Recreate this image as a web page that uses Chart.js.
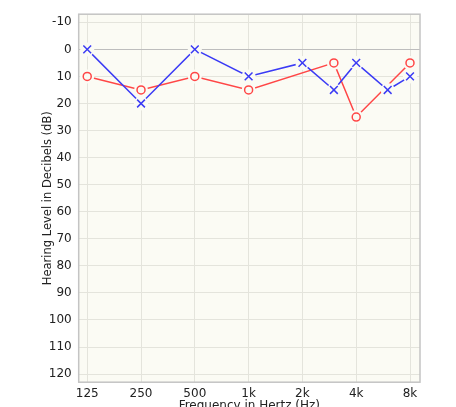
<!DOCTYPE html>
<html>
<head>
<meta charset="utf-8">
<script src="https://cdn.jsdelivr.net/npm/chart.js@4.4.1/dist/chart.umd.min.js"></script>
<style>
  html, body { margin: 0; padding: 0; background: #fff; overflow: hidden; }
  #wrap { width: 456px; height: 413px; position: relative; }
</style>
</head>
<body>
<div id="wrap"><canvas id="audiogram"></canvas></div>
<script>
// audiogram data (Hz / dB HL)
let freq_ticks = [125, 250, 500, 1000, 2000, 4000, 8000]
let freq_labels = ['125', '250', '500', '1k', '2k', '4k', '8k']
let db_ticks = [-10, 0, 10, 20, 30, 40, 50, 60, 70, 80, 90, 100, 110, 120]

let left_freqs = [125, 250, 500, 1000, 2000, 3000, 4000, 6000, 8000]
let left_db = [0, 20, 0, 10, 5, 15, 5, 15, 10]
let right_freqs = [125, 250, 500, 1000, 3000, 4000, 8000]
let right_db = [10, 15, 10, 15, 5, 25, 5]

let plot_bg = '#fbfbf4'
let blue = '#3b3bf5'
let red = '#ff4646'

const toPoints = (xs, ys) => xs.map((f, i) => ({ x: f, y: ys[i] }))

// plot background + full border
const plotFrame = {
  id: 'plotFrame',
  beforeDraw(chart) {
    const { ctx, chartArea: a } = chart
    ctx.save()
    ctx.fillStyle = plot_bg
    ctx.fillRect(a.left, a.top, a.width, a.height)
    ctx.restore()
  },
  afterDatasetsDraw(chart) {
    const { ctx, chartArea: a } = chart
    ctx.save()
    ctx.strokeStyle = '#c4c4c4'
    ctx.lineWidth = 1.5
    ctx.strokeRect(a.left, a.top, a.width, a.height)
    ctx.restore()
  }
}

function markers(xs, ys, color, style, r) {
  return {
    data: toPoints(xs, ys), showLine: false,
    pointStyle: style, pointRadius: r, pointHoverRadius: r,
    pointBorderColor: color, pointBackgroundColor: 'rgba(0,0,0,0)', pointBorderWidth: 1.5
  }
}
function halo(xs, ys) {
  return {
    data: toPoints(xs, ys), showLine: false,
    pointStyle: 'circle', pointRadius: 7, pointBorderWidth: 0,
    pointBackgroundColor: plot_bg, pointBorderColor: plot_bg
  }
}
function line(xs, ys, color) {
  return {
    data: toPoints(xs, ys), showLine: true, pointRadius: 0,
    borderColor: color, borderWidth: 1.5
  }
}

let chart = new Chart(document.querySelector('#audiogram'), {
  type: 'scatter',
  data: {
    datasets: [
      markers(left_freqs, left_db, blue, 'crossRot', 5.5),
      markers(right_freqs, right_db, red, 'circle', 4),
      halo(left_freqs, left_db),
      halo(right_freqs, right_db),
      line(left_freqs, left_db, blue),
      line(right_freqs, right_db, red)
    ]
  },
  options: {
    responsive: true,
    maintainAspectRatio: false,
    animation: false,
    layout: { padding: { left: 28, right: 36, top: 13, bottom: 0 } },
    plugins: { legend: { display: false }, tooltip: { enabled: false } },
    scales: {
      x: {
        type: 'logarithmic',
        min: 112, max: 9100,
        afterBuildTicks: axis => { axis.ticks = freq_ticks.map(v => ({ value: v })) },
        ticks: {
          color: '#222', font: { family: 'DejaVu Sans', size: 12 }, padding: 4,
          autoSkip: false, maxRotation: 0,
          callback: v => freq_labels[freq_ticks.indexOf(v)]
        },
        grid: { color: '#e4e4dc', drawTicks: false },
        border: { display: false },
        title: {
          display: true, text: 'Frequency in Hertz (Hz)', color: '#222',
          font: { family: 'DejaVu Sans', size: 12 }, padding: { top: -6, bottom: 0 }
        }
      },
      y: {
        reverse: true,
        min: -13, max: 123,
        afterBuildTicks: axis => { axis.ticks = db_ticks.map(v => ({ value: v })) },
        ticks: { color: '#222', font: { family: 'DejaVu Sans', size: 12 }, padding: 7 },
        grid: {
          color: c => c.tick && c.tick.value === 0 ? '#bdbdbd' : '#e4e4dc',
          drawTicks: false
        },
        border: { display: false },
        title: {
          display: true, text: 'Hearing Level in Decibels (dB)', color: '#222',
          font: { family: 'DejaVu Sans', size: 11.5 }, padding: { top: 13, bottom: -13 }
        }
      }
    }
  },
  plugins: [plotFrame]
})
</script>
</body>
</html>
